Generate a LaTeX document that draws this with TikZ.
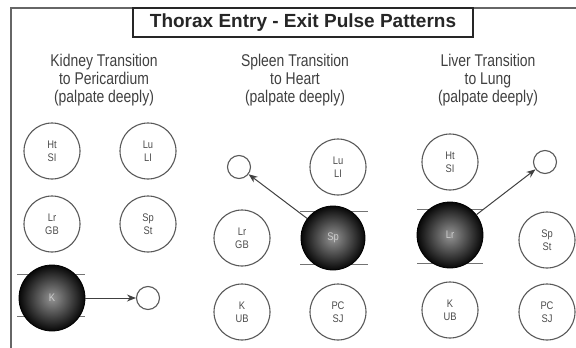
\documentclass[tikz,border=0pt]{standalone}
\usepackage{fontspec}
\setmainfont{Liberation Sans}
\newfontfamily\hdrfont[FakeStretch=0.82]{Liberation Sans}
\newfontfamily\cfont[FakeStretch=0.85]{Liberation Sans}
\usetikzlibrary{arrows.meta}
\begin{document}
\begin{tikzpicture}[x=1pt,y=-1pt,
  frame/.style={line width=1.6pt,draw=black!60},
  titlebox/.style={draw=black!85,line width=1.4pt,minimum width=340pt,minimum height=29pt,inner sep=0pt,font=\bfseries\fontsize{19}{22}\selectfont,text=black!85},
  hdr/.style={align=center,inner sep=0pt,anchor=north,font=\hdrfont\fontsize{17}{18}\selectfont,text=black!75},
  orgc/.style={circle,draw=black!65,line width=1.1pt,minimum size=56pt,inner sep=0pt,align=center,font=\cfont\fontsize{11}{13}\selectfont,text=black!70},
  bigc/.style={circle,draw=black,line width=0.8pt,minimum size=66pt,inner sep=0pt,inner color=black!42,outer color=black!97,font=\cfont\fontsize{11}{13}\selectfont,text=black!20},
  tgtc/.style={circle,draw=black!65,line width=1.1pt,minimum size=23pt,inner sep=0pt},
  lvl/.style={draw=black!55,line width=0.8pt},
  arr/.style={draw=black!75,line width=1pt,-{Stealth[length=9pt,width=7pt]}}]
\useasboundingbox (0,0) rectangle (576,348);
% frame
\draw[frame] (11,348) -- (11,8) -- (576,8);
\node[titlebox,fill=white] (title) at (303,22.5) {Thorax Entry - Exit Pulse Patterns};
% headers
\node[hdr] (h1) at (104,54) {Kidney Transition\\to Pericardium\\(palpate deeply)};
\node[hdr] (h2) at (295,54) {Spleen Transition\\to Heart\\(palpate deeply)};
\node[hdr] (h3) at (488,54) {Liver Transition\\to Lung\\(palpate deeply)};
% panel 1
\node[orgc] (p1ht) at (52,151) {Ht\\SI};
\node[orgc] (p1lu) at (148,151) {Lu\\LI};
\node[orgc] (p1lr) at (52,224) {Lr\\GB};
\node[orgc] (p1sp) at (148,224) {Sp\\St};
\coordinate (p1a) at (17,274); \coordinate (p1b) at (85,274);
\coordinate (p1c) at (17,316); \coordinate (p1d) at (85,316);
\draw[lvl] (p1a) -- (p1b); \draw[lvl] (p1c) -- (p1d);
\node[bigc] (p1k) at (52,298) {K};
\node[tgtc] (p1t) at (148,298) {};
\draw[arr] (p1k) -- (p1t);
% panel 2
\node[tgtc] (p2t) at (239,167) {};
\node[orgc] (p2lu) at (338,167) {Lu\\LI};
\node[orgc] (p2lr) at (242,238) {Lr\\GB};
\coordinate (p2a) at (300,211); \coordinate (p2b) at (368,211);
\coordinate (p2c) at (300,264); \coordinate (p2d) at (368,264);
\draw[lvl] (p2a) -- (p2b); \draw[lvl] (p2c) -- (p2d);
\node[bigc,minimum size=64pt] (p2sp) at (333,238) {Sp};
\node[orgc] (p2k) at (242,312) {K\\UB};
\node[orgc] (p2pc) at (338,312) {PC\\SJ};
\draw[arr] (p2sp) -- (p2t);
% panel 3
\node[orgc] (p3ht) at (450,162) {Ht\\SI};
\node[tgtc] (p3t) at (545,162) {};
\coordinate (p3a) at (417,209); \coordinate (p3b) at (483,209);
\coordinate (p3c) at (417,263); \coordinate (p3d) at (483,263);
\draw[lvl] (p3a) -- (p3b); \draw[lvl] (p3c) -- (p3d);
\node[bigc] (p3lr) at (450,235) {Lr};
\node[orgc] (p3sp) at (547,240) {Sp\\St};
\node[orgc] (p3k) at (450,310) {K\\UB};
\node[orgc] (p3pc) at (547,312) {PC\\SJ};
\draw[arr] (p3lr) -- (p3t);
\end{tikzpicture}
\end{document}
